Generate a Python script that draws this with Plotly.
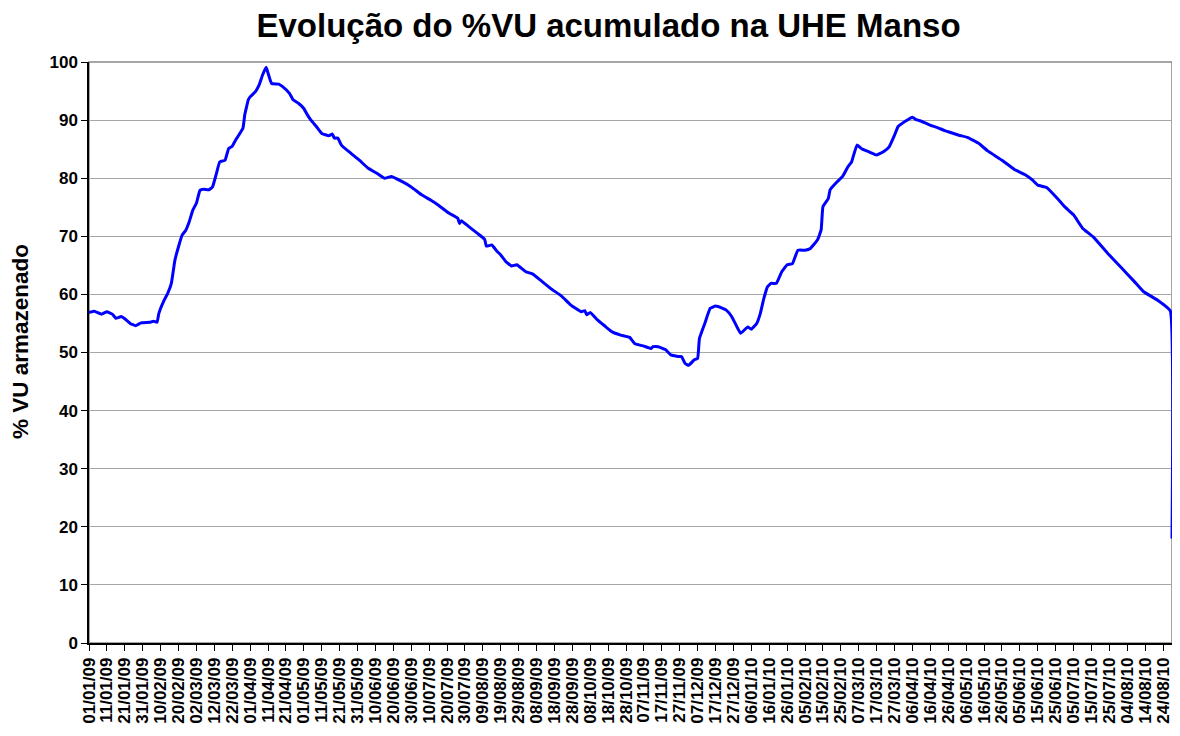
import pandas as pd
import plotly.graph_objects as go

# Day offsets from 01/01/2009 and % VU stored
day_offsets = [0, 3, 7, 10, 13, 15, 18, 20, 23, 26, 29, 34, 36, 38, 39, 42, 44, 46, 48, 50,
               52, 54, 56, 58, 60, 62, 64, 67, 69, 71, 73, 76, 78, 80, 82, 86, 87, 89, 90, 93,
               95, 97, 99, 100, 102, 106, 108, 112, 114, 117, 120, 122, 124, 127, 130, 134, 136, 137, 139, 141,
               145, 151, 156, 161, 165, 169, 175, 180, 186, 191, 195, 201, 206, 207, 208, 212, 217, 221, 222, 225,
               228, 230, 233, 236, 239, 244, 248, 252, 258, 264, 269, 275, 277, 278, 280, 284, 288, 292, 297, 302,
               305, 310, 314, 315, 318, 322, 325, 329, 331, 333, 335, 338, 340, 341, 344, 347, 350, 354, 356, 359,
               362, 364, 368, 370, 373, 375, 377, 379, 381, 384, 387, 390, 393, 396, 400, 403, 407, 409, 410, 413,
               414, 417, 421, 424, 426, 429, 432, 436, 440, 444, 447, 450, 452, 456, 460, 462, 465, 471, 474, 478,
               480, 486, 491, 497, 502, 510, 517, 523, 527, 530, 535, 541, 545, 550, 555, 561, 569, 577, 584, 589,
               597, 604, 605]
vu_values = [56.9, 57.1, 56.6, 57.0, 56.6, 55.9, 56.2, 55.8, 55.0, 54.6, 55.1, 55.2, 55.4, 55.2, 56.7, 59.0, 60.2, 61.9, 65.9, 68.2,
             70.2, 71.0, 72.5, 74.5, 75.7, 77.9, 78.1, 78.0, 78.5, 80.6, 82.8, 83.1, 85.1, 85.5, 86.6, 88.6, 90.9, 93.5, 94.0, 94.9,
             96.0, 97.8, 99.1, 98.1, 96.3, 96.2, 95.8, 94.6, 93.5, 92.9, 92.0, 90.9, 90.0, 88.9, 87.7, 87.3, 87.6, 86.9, 86.9, 85.7,
             84.6, 83.1, 81.7, 80.8, 80.0, 80.3, 79.4, 78.5, 77.1, 76.2, 75.4, 74.0, 73.1, 72.2, 72.7, 71.7, 70.5, 69.5, 68.3, 68.5,
             67.4, 66.8, 65.6, 64.9, 65.1, 63.9, 63.5, 62.5, 61.0, 59.7, 58.2, 57.0, 57.2, 56.5, 56.9, 55.6, 54.6, 53.6, 53.0, 52.6,
             51.5, 51.1, 50.7, 51.0, 51.0, 50.5, 49.6, 49.3, 49.3, 48.1, 47.8, 48.7, 49.0, 52.4, 55.0, 57.6, 58.0, 57.6, 57.3, 56.2,
             54.4, 53.3, 54.4, 54.0, 55.0, 56.7, 59.3, 61.3, 61.9, 61.9, 63.9, 65.1, 65.3, 67.6, 67.6, 67.9, 69.4, 71.1, 75.1, 76.5,
             78.0, 79.1, 80.3, 82.0, 82.8, 85.7, 85.0, 84.5, 84.0, 84.6, 85.4, 87.4, 88.9, 89.8, 90.5, 90.1, 89.8, 89.0, 88.7, 88.2,
             88.0, 87.4, 87.0, 86.0, 84.7, 83.1, 81.5, 80.6, 79.7, 78.8, 78.4, 76.5, 75.1, 73.7, 71.4, 69.9, 67.1, 64.5, 62.2, 60.5,
             59.0, 57.2, 18.0]

start_date = "2009-01-01"
tick_step_days = 10
tick_count = 61
y_ticks = [0, 10, 20, 30, 40, 50, 60, 70, 80, 90, 100]

title_text = "Evolução do %VU acumulado na UHE Manso"
y_title = "% VU armazenado"

start = pd.Timestamp(start_date)
dates = [(start + pd.Timedelta(days=d)).strftime("%Y-%m-%d") for d in day_offsets]
tick_ts = [start + pd.Timedelta(days=tick_step_days * i) for i in range(tick_count)]
tick_dates = [d.strftime("%Y-%m-%d") for d in tick_ts]
tick_text = [d.strftime("%d/%m/%y") for d in tick_ts]

FONT = "Liberation Sans, Arial, sans-serif"

# The page body adds an 8px offset; keep the figure inside the visible area.
fig = go.Figure()
fig.add_trace(go.Scatter(
    x=dates, y=vu_values, mode="lines",
    line=dict(color="#0000FF", width=3, shape="spline", smoothing=0.3),
    showlegend=False, hoverinfo="x+y",
))

fig.update_layout(
    width=1164, height=728,
    paper_bgcolor="white", plot_bgcolor="white",
    margin=dict(l=81, r=0, t=54, b=93, autoexpand=False),
    title=dict(text=title_text, x=0.5159, xanchor="center", y=0.976, yanchor="middle",
               automargin=False,
               font=dict(family=FONT, size=33, color="black", weight="bold")),
    shapes=[dict(type="rect", xref="paper", yref="paper", x0=0, x1=1, y0=0, y1=1,
                 line=dict(color="#888888", width=1.5), layer="below")],
    annotations=[dict(text=y_title, textangle=-90, xref="paper", yref="paper",
                      x=-0.0637, y=0.518, xanchor="center", yanchor="middle", showarrow=False,
                      font=dict(family=FONT, size=22.5, color="black", weight="bold"))],
)

fig.update_xaxes(
    type="date", automargin=False,
    range=[dates[0], dates[-1]],
    tickvals=tick_dates, ticktext=tick_text, tickangle=-90,
    ticklabeloverflow="allow",
    tickfont=dict(family=FONT, size=17, color="black", weight="bold"),
    ticks="outside", ticklen=6, tickcolor="black",
    showline=True, linecolor="black", linewidth=1.5,
    showgrid=False, zeroline=False,
)
fig.update_yaxes(
    range=[0, 100], tickvals=y_ticks, automargin=False,
    tickfont=dict(family=FONT, size=17, color="black", weight="bold"),
    ticks="outside", ticklen=6, tickcolor="black",
    showline=True, linecolor="black", linewidth=1.5,
    showgrid=True, gridcolor="#a6a6a6", gridwidth=1,
    zeroline=False,
)

fig.write_html("out.html")
